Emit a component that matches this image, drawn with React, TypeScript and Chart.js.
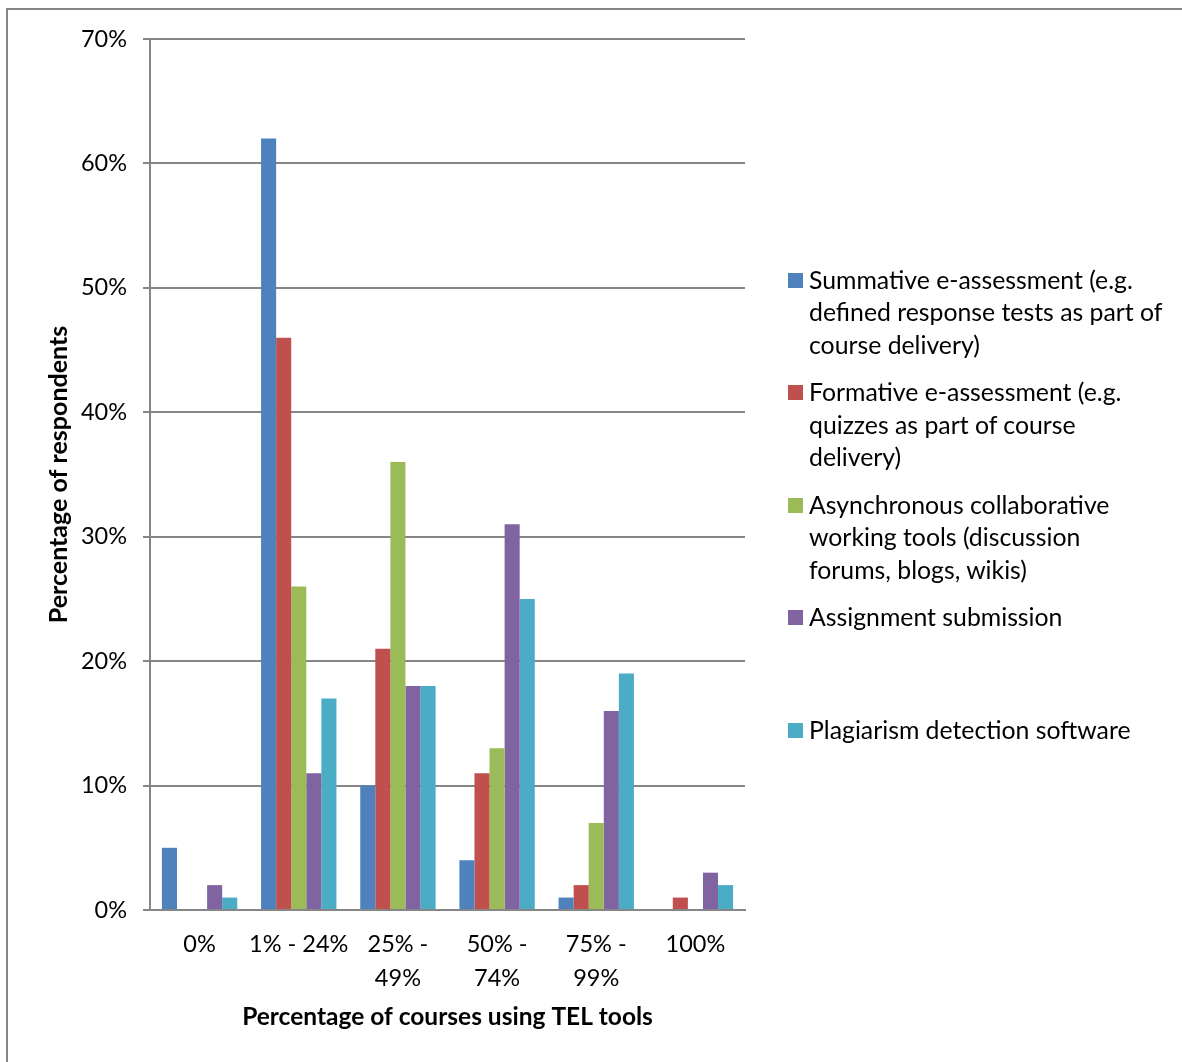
import React, { useEffect, useRef } from 'react';
import { Chart, registerables } from 'chart.js';

Chart.register(...registerables);

const categories: (string | string[])[] = ['0%', '1% - 24%', ['25% -', '49%'], ['50% -', '74%'], ['75% -', '99%'], '100%'];

const summative = [5, 62, 10, 4, 1, 0];
const formative = [0, 46, 21, 11, 2, 1];
const asynchronous = [0, 26, 36, 13, 7, 0];
const assignment = [2, 11, 18, 31, 16, 3];
const plagiarism = [1, 17, 18, 25, 19, 2];

const seriesLabels: string[][] = [
  ['Summative e-assessment (e.g.', 'defined response tests as part of', 'course delivery)'],
  ['Formative e-assessment (e.g.', 'quizzes as part of course', 'delivery)'],
  ['Asynchronous collaborative', 'working tools (discussion', 'forums, blogs, wikis)'],
  ['Assignment submission'],
  ['Plagiarism detection software'],
];
const seriesColors = ['#4F81BD', '#C0504D', '#9BBB59', '#8064A2', '#4BACC6'];
const seriesValues = [summative, formative, asynchronous, assignment, plagiarism];

const yTickMax = 70;
const yTickStep = 10;
const yTitle = 'Percentage of respondents';
const xTitle = 'Percentage of courses using TEL tools';

const FONT = 'Lato, "Open Sans", sans-serif';
const GRID = '#868686';

export default function App() {
  const ref = useRef<HTMLCanvasElement | null>(null);

  useEffect(() => {
    if (!ref.current) return;
    const chart = new Chart(ref.current, {
      type: 'bar',
      data: {
        labels: categories as any,
        datasets: seriesValues.map((vals, i) => ({
          label: seriesLabels[i].join(' '),
          data: vals,
          backgroundColor: seriesColors[i],
          borderWidth: 0,
          categoryPercentage: 0.76,
          barPercentage: 1,
        })),
      },
      options: {
        responsive: false,
        animation: false,
        events: [],
        layout: { padding: { top: 39, right: 437, left: 0, bottom: 0 } },
        plugins: { legend: { display: false }, tooltip: { enabled: false }, title: { display: false } },
        scales: {
          x: {
            grid: { display: false, drawTicks: false },
            border: { display: true, color: GRID, width: 2 },
            ticks: {
              color: '#000',
              font: { family: FONT, size: 23.5, lineHeight: 1.45 },
              padding: 17,
              maxRotation: 0,
              minRotation: 0,
              autoSkip: false,
            },
            title: {
              display: true,
              text: xTitle,
              color: '#000',
              font: { family: FONT, size: 24.5, weight: 'bold', lineHeight: 1.2 },
              padding: { top: 0, bottom: 30 },
            },
            afterFit: (s: any) => { s.height = 152; },
          },
          y: {
            min: 0,
            max: yTickMax,
            ticks: {
              stepSize: yTickStep,
              callback: (v: any) => v + '%',
              color: '#000',
              font: { family: FONT, size: 23.5 },
              padding: 16,
            },
            grid: { color: GRID, lineWidth: 2, tickLength: 7, drawTicks: true },
            border: { display: true, color: GRID, width: 2 },
            title: {
              display: true,
              text: yTitle,
              color: '#000',
              font: { family: FONT, size: 25, weight: 'bold', lineHeight: 1.2 },
              padding: { top: 44, bottom: 0 },
            },
            afterFit: (s: any) => { s.width = 150; },
          },
        },
      } as any,
    });
    return () => chart.destroy();
  }, []);

  return (
    <div style={{ position: 'absolute', left: 0, top: 0, width: 1182, height: 1062, background: '#fff', overflow: 'hidden' }}>
      <div style={{ position: 'absolute', left: 6, top: 8, width: 1400, height: 1400, borderTop: `2px solid ${GRID}`, borderLeft: `2px solid ${GRID}` }} />
      <canvas ref={ref} width={1182} height={1062} style={{ position: 'absolute', left: 0, top: 0, display: 'block' }} />
      <div style={{ position: 'absolute', left: 788, top: 263.75, fontFamily: FONT, fontSize: 24.8, color: '#000' }}>
        {seriesLabels.map((lines, i) => (
          <div key={i} style={{ position: 'relative', height: 112.5 }}>
            <div style={{ position: 'absolute', left: 0, top: 9, width: 15, height: 15, background: seriesColors[i] }} />
            <div style={{ position: 'absolute', left: 21, top: 0, lineHeight: '32.5px', whiteSpace: 'nowrap' }}>
              {lines.map((l, j) => (<div key={j}>{l}</div>))}
            </div>
          </div>
        ))}
      </div>
    </div>
  );
}
